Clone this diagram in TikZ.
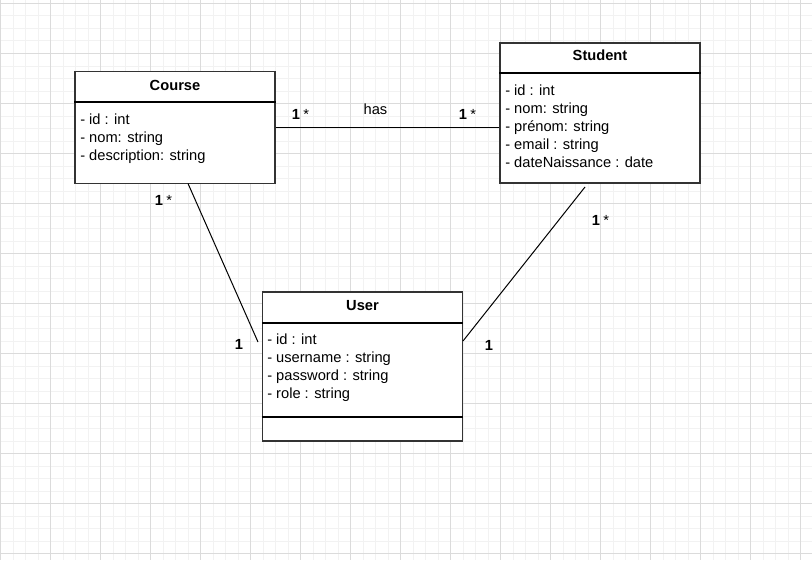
\documentclass[tikz,border=0pt]{standalone}
\usepackage{fontspec}
\setmainfont{Liberation Sans}
\begin{document}
\begin{tikzpicture}[x=0.75pt,y=-0.75pt,
  minorgrid/.style={draw=black!5, line width=0.75pt},
  majorgrid/.style={draw=black!14, line width=0.75pt},
  classbox/.style={draw=black!80, line width=1.1pt, fill=white, rectangle, inner sep=0pt, minimum width=150pt},
  sepline/.style={draw=black, line width=0.8pt},
  title/.style={font=\fontsize{11pt}{13pt}\selectfont\bfseries, anchor=base, inner sep=0pt},
  attr/.style={font=\fontsize{11pt}{13pt}\selectfont, anchor=base west, inner sep=0pt},
  mult/.style={anchor=base west, inner sep=0pt},
  lbl/.style={font=\fontsize{11pt}{13pt}\selectfont, anchor=base, inner sep=0pt},
  conn/.style={draw=black, line width=0.75pt}]
\newcommand{\one}{{\fontsize{11pt}{13pt}\selectfont\bfseries 1}}
\newcommand{\onestar}{{\fontsize{11pt}{13pt}\selectfont\bfseries 1}\hspace{2.6pt}{\fontsize{11pt}{13pt}\selectfont *}}
\useasboundingbox (0,0) rectangle (812,560);
\fill[white] (0,0) rectangle (812,560);
% grid
\foreach \i in {0,...,65} {
  \draw[minorgrid] ({0.5+12.5*\i},0) -- ({0.5+12.5*\i},560);
}
\foreach \j in {0,...,45} {
  \draw[minorgrid] (0,{3.5+12.5*\j}) -- (812,{3.5+12.5*\j});
}
\foreach \i in {0,...,16} {
  \draw[majorgrid] ({0.5+50*\i},0) -- ({0.5+50*\i},560);
}
\foreach \j in {0,...,11} {
  \draw[majorgrid] (0,{3.5+50*\j}) -- (812,{3.5+50*\j});
}
% classes
\node[classbox, minimum height=84pt] (course) at (175,127.5) {};
\node[classbox, minimum height=105pt] (student) at (600,113) {};
\node[classbox, minimum height=111.75pt] (user) at (362.5,366.5) {};
% separators
\draw[sepline] (course.west |- 0,102) -- (course.east |- 0,102);
\draw[sepline] (student.west |- 0,73) -- (student.east |- 0,73);
\draw[sepline] (user.west |- 0,323) -- (user.east |- 0,323);
\draw[sepline] (user.west |- 0,417) -- (user.east |- 0,417);
% titles
\node[title] (coursetitle) at (175,90.5) {Course};
\node[title] (studenttitle) at (600,60.5) {Student};
\node[title] (usertitle) at (362.5,310) {User};
% attributes
\node[attr] (ca1) at (80,124) {- id : int};
\node[attr] (ca2) at (80,142) {- nom: string};
\node[attr] (ca3) at (80,160) {- description: string};
\node[attr] (sa1) at (505,95) {- id : int};
\node[attr] (sa2) at (505,113) {- nom: string};
\node[attr] (sa3) at (505,131) {- prénom: string};
\node[attr] (sa4) at (505,149) {- email : string};
\node[attr] (sa5) at (505,167) {- dateNaissance : date};
\node[attr] (ua1) at (267,344) {- id : int};
\node[attr] (ua2) at (267,362) {- username : string};
\node[attr] (ua3) at (267,380) {- password : string};
\node[attr] (ua4) at (267,398) {- role : string};
% connectors
\coordinate (coursebottom) at (188,183.5);
\coordinate (userleft) at (258,342);
\coordinate (studentbottom) at (585,187);
\coordinate (userright) at (463,341);
\draw[conn] (course.east) -- (course.east -| student.west);
\draw[conn] (coursebottom) -- (userleft);
\draw[conn] (studentbottom) -- (userright);
% labels
\node[lbl] (has) at (375.5,114) {has};
\node[mult] (m1) at (291.5,119) {\onestar};
\node[mult] (m2) at (458.5,119) {\onestar};
\node[mult] (m3) at (154.5,205) {\onestar};
\node[mult] (m4) at (234.5,349) {\one};
\node[mult] (m5) at (591.5,225) {\onestar};
\node[mult] (m6) at (484.5,350) {\one};
\end{tikzpicture}
\end{document}
